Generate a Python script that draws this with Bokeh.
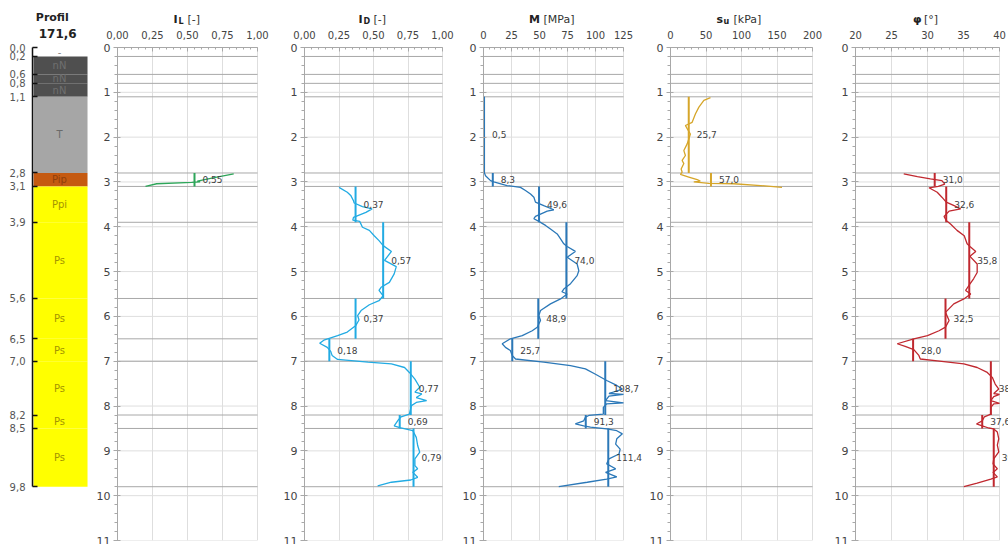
from bokeh.plotting import figure
from bokeh.layouts import row, column
from bokeh.models import Range1d, FixedTicker, ColumnDataSource, LabelSet, CustomJSTickFormatter
from bokeh.core.properties import value
from bokeh.embed import file_html
from bokeh.resources import INLINE

FONT = "DejaVu Sans"

# ---------------- data ----------------
profile_title = "Profil"
profile_level = "171,6"

layer_top = [0.0, 0.2, 0.6, 0.8, 1.1, 2.8, 3.1, 3.9, 5.6, 6.5, 7.0, 8.2, 8.5]
layer_bot = [0.2, 0.6, 0.8, 1.1, 2.8, 3.1, 3.9, 5.6, 6.5, 7.0, 8.2, 8.5, 9.8]
layer_name = ["-", "nN", "nN", "nN", "T", "Pip", "Ppi", "Ps", "Ps", "Ps", "Ps", "Ps", "Ps"]
layer_color = ["#ffffff", "#4f4f4f", "#4f4f4f", "#4f4f4f", "#a6a6a6", "#c55a11",
               "#ffff00", "#ffff00", "#ffff00", "#ffff00", "#ffff00", "#ffff00", "#ffff00"]
layer_text_color = ["#8a8a8a", "#707070", "#707070", "#707070", "#6a6a6a", "#8e3f0c",
                    "#a39400", "#a39400", "#a39400", "#a39400", "#a39400", "#a39400", "#a39400"]

# I_L
il_depth = [2.82, 2.90, 2.98, 3.00, 3.01, 3.04, 3.10]
il_val = [0.83, 0.70, 0.57, 0.59, 0.53, 0.28, 0.20]
il_seg_top = [2.8]
il_seg_bot = [3.1]
il_seg_val = [0.55]

# I_D
id_depth = [3.12, 3.23, 3.30, 3.42, 3.47, 3.55, 3.60, 3.68, 3.79, 3.85, 3.88, 4.01, 4.08, 4.20,
            4.31, 4.42, 4.55, 4.75, 4.89, 5.05, 5.24, 5.35, 5.42, 5.54, 5.65, 5.74, 5.87, 5.98,
            6.08, 6.21, 6.35, 6.43, 6.53, 6.60, 6.69, 6.78, 6.87, 6.96, 7.02, 7.06, 7.14, 7.25,
            7.40, 7.58, 7.69, 7.73, 7.81, 7.88, 7.92, 7.99, 8.18, 8.24, 8.31, 8.44, 8.48, 8.55,
            8.70, 8.88, 9.03, 9.18, 9.33, 9.40, 9.48, 9.59, 9.65, 9.70, 9.78]
id_val = [0.25, 0.31, 0.335, 0.355, 0.36, 0.42, 0.49, 0.445, 0.355, 0.35, 0.40, 0.42, 0.47, 0.505,
          0.54, 0.57, 0.63, 0.58, 0.665, 0.65, 0.615, 0.555, 0.54, 0.57, 0.54, 0.47, 0.41, 0.385,
          0.395, 0.37, 0.31, 0.24, 0.14, 0.11, 0.165, 0.19, 0.20, 0.24, 0.46, 0.63, 0.725, 0.76,
          0.80, 0.835, 0.80, 0.85, 0.81, 0.885, 0.81, 0.775, 0.76, 0.70, 0.68, 0.65, 0.69, 0.785,
          0.81, 0.82, 0.835, 0.80, 0.80, 0.82, 0.785, 0.82, 0.77, 0.63, 0.53]
id_seg_top = [3.1, 3.9, 5.6, 6.5, 7.0, 8.2, 8.5]
id_seg_bot = [3.9, 5.6, 6.5, 7.0, 8.2, 8.5, 9.8]
id_seg_val = [0.37, 0.57, 0.37, 0.18, 0.77, 0.69, 0.79]

# M
m_depth = [1.10, 2.78, 2.86, 2.97, 3.00, 3.08, 3.12, 3.19, 3.27, 3.34, 3.45, 3.53, 3.62, 3.65,
           3.77, 3.82, 3.88, 3.97, 4.05, 4.16, 4.27, 4.38, 4.44, 4.55, 4.68, 4.83, 4.98, 5.09,
           5.27, 5.39, 5.45, 5.50, 5.61, 5.72, 5.87, 5.98, 6.09, 6.24, 6.32, 6.43, 6.50, 6.61,
           6.69, 6.76, 6.87, 6.95, 7.02, 7.10, 7.17, 7.29, 7.43, 7.54, 7.62, 7.72, 7.74, 7.78,
           7.88, 7.93, 7.95, 8.03, 8.18, 8.21, 8.25, 8.33, 8.40, 8.44, 8.47, 8.51, 8.55, 8.62,
           8.73, 8.85, 8.96, 9.07, 9.18, 9.29, 9.40, 9.48, 9.58, 9.63, 9.70, 9.80]
m_val = [0.5, 0.5, 1.8, 6.3, 9.2, 21.0, 33.0, 37.5, 42.0, 45.0, 46.4, 53.8, 62.8, 56.9,
         46.4, 45.0, 49.4, 55.4, 59.8, 65.8, 68.8, 71.7, 74.7, 82.0, 74.7, 83.6, 85.1, 83.6,
         77.7, 71.7, 70.0, 74.7, 68.8, 59.8, 50.9, 49.4, 50.9, 48.0, 43.5, 34.6, 24.0, 16.7,
         19.6, 24.0, 25.6, 28.6, 53.8, 77.7, 91.0, 100.0, 110.0, 119.0, 124.0, 112.0, 125.0, 112.0,
         109.0, 125.0, 110.0, 107.0, 107.0, 94.0, 91.0, 89.5, 82.0, 89.5, 95.5, 110.0, 119.0, 124.0,
         119.0, 118.0, 122.0, 121.0, 112.0, 110.0, 118.0, 109.0, 119.0, 110.0, 92.6, 67.2]
m_seg_top = [1.1, 2.8, 3.1, 3.9, 5.6, 6.5, 7.0, 8.2, 8.5]
m_seg_bot = [2.8, 3.1, 3.9, 5.6, 6.5, 7.0, 8.2, 8.5, 9.8]
m_seg_val = [0.5, 8.3, 49.6, 74.0, 48.9, 25.7, 108.7, 91.3, 111.4]

# s_u
su_depth = [1.12, 1.18, 1.33, 1.48, 1.67, 1.74, 1.81, 1.93, 2.04, 2.15, 2.30, 2.41, 2.52, 2.59,
            2.71, 2.78, 2.83, 2.89, 2.95, 2.98, 3.00, 3.03, 3.04, 3.08, 3.12]
su_val = [56.3, 47.0, 40.0, 35.2, 30.5, 21.0, 23.5, 28.0, 25.8, 23.5, 18.8, 21.0, 16.4, 18.8,
          15.0, 16.4, 14.0, 25.8, 37.6, 42.0, 32.8, 54.0, 89.0, 127.0, 157.0]
su_seg_top = [1.1, 2.8]
su_seg_bot = [2.8, 3.1]
su_seg_val = [25.7, 57.0]

# phi
phi_depth = [2.82, 2.88, 2.93, 2.97, 3.05, 3.10, 3.13, 3.23, 3.34, 3.45, 3.53, 3.60, 3.65, 3.77,
             3.86, 3.94, 4.08, 4.20, 4.38, 4.44, 4.55, 4.66, 4.83, 4.90, 5.02, 5.16, 5.31, 5.42,
             5.50, 5.61, 5.72, 5.91, 6.09, 6.24, 6.32, 6.43, 6.50, 6.61, 6.67, 6.74, 6.87, 6.95,
             6.99, 7.06, 7.14, 7.25, 7.36, 7.51, 7.62, 7.72, 7.74, 7.79, 7.88, 7.94, 7.95, 8.03,
             8.18, 8.24, 8.33, 8.40, 8.44, 8.49, 8.51, 8.58, 8.73, 8.87, 9.02, 9.18, 9.29, 9.40,
             9.48, 9.58, 9.63, 9.72, 9.80]
phi_val = [26.7, 28.6, 30.4, 32.0, 32.4, 31.5, 30.2, 31.35, 32.0, 32.6, 33.7, 34.6, 33.0, 32.3,
           32.6, 33.2, 34.1, 35.1, 35.5, 35.9, 36.7, 35.9, 36.9, 36.9, 36.9, 36.4, 35.75, 35.3,
           36.0, 35.05, 33.65, 32.5, 33.0, 32.5, 31.6, 30.0, 28.1, 25.8, 26.9, 28.1, 28.8, 29.0,
           31.35, 35.05, 36.9, 38.3, 39.0, 39.4, 39.9, 39.2, 40.0, 39.2, 38.8, 40.0, 39.2, 38.8,
           38.8, 37.9, 37.6, 36.8, 37.6, 38.5, 39.2, 39.7, 39.9, 39.7, 39.9, 39.2, 39.1, 39.7,
           39.1, 39.7, 38.8, 36.9, 35.05]
phi_seg_top = [2.8, 3.1, 3.9, 5.6, 6.5, 7.0, 8.2, 8.5]
phi_seg_bot = [3.1, 3.9, 5.6, 6.5, 7.0, 8.2, 8.5, 9.8]
phi_seg_val = [31.0, 32.6, 35.8, 32.5, 28.0, 38.8, 37.6, 39.2]

depth_ticks = list(range(0, 12))

# ---------------- layout constants ----------------
DEPTH_MAX = 11
FRAME_H = 493
PX_PER_M = FRAME_H / DEPTH_MAX
GRID = "#dedede"
LAYER_LINE = "#a8a8a8"
AXIS_COL = "#a8a8a8"
LABEL_COL = "#444444"
HEAD_H = 25
TOP_B = 47 - HEAD_H


def fmt_js(dec):
    return CustomJSTickFormatter(code="return tick.toFixed(%d).replace('.', ',');" % dec)


# ---------------- profile column ----------------
prof_h = 544
prof_top = DEPTH_MAX - (prof_h - 4) / PX_PER_M
prof = figure(width=92, height=prof_h, x_range=Range1d(0, 1), y_range=Range1d(DEPTH_MAX, prof_top),
              title=None, x_axis_location=None, output_backend="svg", toolbar_location=None,
              min_border_left=32, min_border_right=0, min_border_top=0, min_border_bottom=4)
prof.grid.visible = False
prof.outline_line_color = None
prof.quad(left=0.017, right=0.917, top=layer_top, bottom=layer_bot,
          fill_color=layer_color, line_color=None)
mids = [(a + b) / 2 for a, b in zip(layer_top, layer_bot)]
prof.text(x=0.45, y=mids, text=layer_name, text_color=layer_text_color, text_align="center",
          text_baseline="middle", text_font_size="10px", text_font=value(FONT))
prof.text(x=[0.33], y=[-0.67], text=[profile_title], text_align="center", text_baseline="middle",
          text_font_size="11px", text_font_style="bold", text_color="#222222", text_font=value(FONT))
prof.text(x=[0.42], y=[-0.31], text=[profile_level], text_align="center", text_baseline="middle",
          text_font_size="12px", text_font_style="bold", text_color="#222222", text_font=value(FONT))
ya = prof.yaxis[0]
ya.ticker = FixedTicker(ticks=[layer_top[0]] + layer_bot, minor_ticks=[])
ya.formatter = fmt_js(1)
ya.bounds = (layer_top[0], layer_bot[-1])
ya.axis_line_color = "#111111"
ya.axis_line_width = 1.5
ya.major_tick_line_color = "#111111"
ya.major_tick_line_width = 1.5
ya.major_tick_in = 5
ya.major_tick_out = 0
ya.minor_tick_line_color = None
ya.major_label_standoff = 7
ya.major_label_text_font_size = "10px"
ya.major_label_text_color = "#555555"
ya.major_label_text_font = FONT

# ---------------- panels ----------------
panel_specs = [
    dict(w=187, fw=140, x0=0, x1=1, major=[0, 0.25, 0.5, 0.75, 1.0], minor=0.05, dec=2,
         cy=il_depth, cx=il_val, st=il_seg_top, sb=il_seg_bot, sv=il_seg_val, color="#2ea65a", ldec=2),
    dict(w=179, fw=138, x0=0, x1=1, major=[0, 0.25, 0.5, 0.75, 1.0], minor=0.05, dec=2,
         cy=id_depth, cx=id_val, st=id_seg_top, sb=id_seg_bot, sv=id_seg_val, color="#22abe3", ldec=2),
    dict(w=187, fw=140, x0=0, x1=125, major=[0, 25, 50, 75, 100, 125], minor=5, dec=0,
         cy=m_depth, cx=m_val, st=m_seg_top, sb=m_seg_bot, sv=m_seg_val, color="#2b78b8", ldec=1),
    dict(w=185, fw=142, x0=0, x1=200, major=[0, 50, 100, 150, 200], minor=10, dec=0,
         cy=su_depth, cx=su_val, st=su_seg_top, sb=su_seg_bot, sv=su_seg_val, color="#d6a62a", ldec=1),
    dict(w=178, fw=144, x0=20, x1=40, major=[20, 25, 30, 35, 40], minor=1, dec=0,
         cy=phi_depth, cx=phi_val, st=phi_seg_top, sb=phi_seg_bot, sv=phi_seg_val, color="#c0282f", ldec=1),
]
BL = 25

panels = []
for s in panel_specs:
    span = s["x1"] - s["x0"]
    frame_w = s["w"] - BL
    x_end = s["x0"] + span * frame_w / s["fw"]   # frame extends into the gap so labels can overflow
    p = figure(width=s["w"], height=544 - HEAD_H, x_range=Range1d(s["x0"], x_end),
               y_range=Range1d(DEPTH_MAX, 0), x_axis_location="above", title=None,
               output_backend="svg", toolbar_location=None,
               min_border_left=BL, min_border_right=0,
               min_border_top=TOP_B, min_border_bottom=4)
    nminor = int(round(span / s["minor"]))
    xa = p.xaxis[0]
    xa.ticker = FixedTicker(ticks=s["major"],
                            minor_ticks=[s["x0"] + i * s["minor"] for i in range(nminor + 1)])
    xa.formatter = fmt_js(s["dec"])
    xa.bounds = (s["x0"], s["x1"])
    xa.major_tick_in = 4
    xa.major_tick_out = 0
    xa.minor_tick_in = 2
    xa.minor_tick_out = 0
    xa.major_label_standoff = 9
    xa.major_label_text_font_size = "10px"
    xa.major_label_text_color = LABEL_COL
    xa.major_label_text_font = FONT
    yax = p.yaxis[0]
    yax.ticker = FixedTicker(ticks=depth_ticks,
                             minor_ticks=[i * 0.2 for i in range(DEPTH_MAX * 5 + 1)])
    yax.major_tick_in = 3
    yax.major_tick_out = 4
    yax.minor_tick_in = 0
    yax.minor_tick_out = 3
    yax.major_label_standoff = 3
    yax.major_label_text_font_size = "11px"
    yax.major_label_text_color = LABEL_COL
    yax.major_label_text_font = FONT
    for ax in (xa, yax):
        ax.axis_line_color = AXIS_COL
        ax.major_tick_line_color = AXIS_COL
        ax.minor_tick_line_color = AXIS_COL
    p.xgrid.grid_line_color = GRID
    p.ygrid.visible = False
    p.outline_line_color = None
    hg = depth_ticks[1:]
    p.segment(x0=[s["x0"]] * len(hg), x1=[s["x1"]] * len(hg), y0=hg, y1=hg,
              line_color=GRID, line_width=1)
    p.segment(x0=[s["x0"]] * len(layer_bot), x1=[s["x1"]] * len(layer_bot), y0=layer_bot, y1=layer_bot,
              line_color=LAYER_LINE, line_width=1)
    p.line(s["cx"], s["cy"], line_color=s["color"], line_width=1.3)
    p.segment(x0=s["sv"], y0=s["st"], x1=s["sv"], y1=s["sb"], line_color=s["color"], line_width=2)
    lab = ["{:.{d}f}".format(v, d=s["ldec"]).replace(".", ",") for v in s["sv"]]
    src = ColumnDataSource(dict(x=s["sv"], y=[(a + b) / 2 for a, b in zip(s["st"], s["sb"])], t=lab))
    p.add_layout(LabelSet(x="x", y="y", text="t", source=src, x_offset=8, text_baseline="middle",
                          text_font_size="9px", text_color="#404040", text_font=value(FONT)))
    panels.append(p)

# ---------------- header strip with panel titles ----------------
head = figure(width=916, height=HEAD_H, x_range=Range1d(92, 1008), y_range=Range1d(HEAD_H, 0),
              title=None, x_axis_location=None, y_axis_location=None, output_backend="svg",
              toolbar_location=None, min_border=0)
head.grid.visible = False
head.outline_line_color = None

hdr_sym = ["I", "I", "M", "s", "φ"]
hdr_sub = ["L", "D", "", "u", ""]
hdr_unit = ["[-]", "[-]", "[MPa]", "[kPa]", "[°]"]
sym_x = [173, 358, 528.5, 716, 912.5]
sub_x = [178, 363, 528.5, 723, 912.5]
unit_x = [187, 373, 543, 733, 923.5]
head.text(x=sym_x, y=[18.5] * 5, text=hdr_sym, text_font_size="11px", text_font_style="bold",
          text_color="#222222", text_baseline="middle", text_font=value(FONT))
head.text(x=sub_x, y=[20.5] * 5, text=hdr_sub, text_font_size="8px", text_font_style="bold",
          text_color="#222222", text_baseline="middle", text_font=value(FONT))
head.text(x=unit_x, y=[18.5] * 5, text=hdr_unit, text_font_size="11px",
          text_color="#333333", text_baseline="middle", text_font=value(FONT))

layout = row(prof, column(head, row(*panels)))

open("out.html", "w").write(file_html(layout, INLINE))
